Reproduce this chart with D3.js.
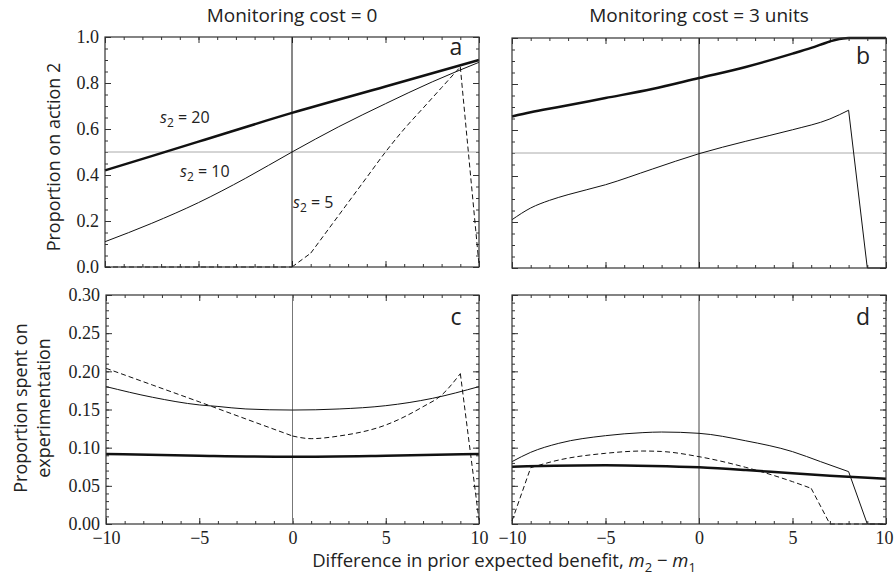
<!DOCTYPE html>
<html lang="en">
<head>
<meta charset="UTF-8">
<title>Monitoring cost panels</title>
<script src="https://d3js.org/d3.v7.min.js"></script>
<style>
  body { margin: 0; background: #fff; }
  svg { display: block; }
</style>
</head>
<body>
<svg id="chart" width="894" height="582"></svg>
<script>
// panel a: monitoring cost 0, proportion on action 2
let a20X = [-10, -5, 0, 5, 10]
let a20Y = [0.42, 0.545, 0.67, 0.785, 0.90]
let a10X = [-10, -7.5, -5, -2.5, 0, 2.5, 5, 7.5, 10]
let a10Y = [0.11, 0.19, 0.28, 0.385, 0.50, 0.61, 0.71, 0.805, 0.89]
let a5X = [-10, 0, 1, 2, 3, 4, 5, 6, 7, 8, 9, 10]
let a5Y = [0, 0, 0.06, 0.17, 0.28, 0.39, 0.50, 0.60, 0.69, 0.78, 0.87, 0.01]

// panel b: monitoring cost 3
let b20X = [-10, -9, -7.5, -5, -2.5, 0, 2.5, 5, 6, 7, 7.5, 8, 10]
let b20Y = [0.659, 0.677, 0.70, 0.739, 0.778, 0.826, 0.874, 0.932, 0.957, 0.985, 0.996, 1.0, 1.0]
let b10X = [-10, -9, -8, -7, -5, -2.5, 0, 2.5, 5, 7, 8, 9, 10]
let b10Y = [0.21, 0.261, 0.294, 0.319, 0.362, 0.43, 0.497, 0.551, 0.601, 0.648, 0.686, 0, 0]

// panel c: monitoring cost 0, proportion spent on experimentation
let c20X = [-10, -5, 0, 5, 10]
let c20Y = [0.0917, 0.0895, 0.0882, 0.0895, 0.0917]
let c10X = [-10, -7.5, -5, -4, -2.5, 0, 2.5, 5, 7.5, 10]
let c10Y = [0.180, 0.166, 0.156, 0.154, 0.1507, 0.1493, 0.1507, 0.155, 0.1646, 0.180]
let c5X = [-10, -7.5, -5, -2.5, 0, 1, 2.5, 5, 7, 8, 9, 10]
let c5Y = [0.204, 0.182, 0.160, 0.1376, 0.1153, 0.1118, 0.1153, 0.1297, 0.1537, 0.169, 0.197, 0.005]

// panel d: monitoring cost 3
let d20X = [-10, -5, -2.5, 0, 2.5, 5, 7, 8, 10]
let d20Y = [0.0751, 0.0769, 0.076, 0.0742, 0.0707, 0.0664, 0.0633, 0.062, 0.0594]
let d10X = [-10, -9, -7.5, -5, -3, -2, 0, 2.5, 5, 6.5, 8, 9, 10]
let d10Y = [0.0817, 0.0939, 0.1057, 0.1157, 0.1197, 0.1205, 0.1188, 0.109, 0.0948, 0.0817, 0.0686, 0, 0]
let d5X = [-10, -9, -7.5, -5, -3, -2, 0, 2.5, 5, 6, 7, 10]
let d5Y = [0.004, 0.0738, 0.0838, 0.0926, 0.0956, 0.095, 0.0882, 0.0742, 0.0555, 0.0467, 0, 0]

let xMajor = [-10, -5, 0, 5, 10]
let topMajor = [0, 0.2, 0.4, 0.6, 0.8, 1.0]
let botMajor = [0, 0.05, 0.10, 0.15, 0.20, 0.25, 0.30]

let titles = ["Monitoring cost = 0", "Monitoring cost = 3 units"]

let svg = d3.select('#chart')
let sans = '"Open Sans", "Noto Sans", sans-serif'
let serif = 'Liberation Serif'

let zip = (xs, ys) => xs.map((x, i) => [x, ys[i]])

let styles = {
  thick: {w: 2.5, dash: null},
  thin: {w: 1, dash: null},
  dash: {w: 1, dash: '5,3'}
}

// last item of each series = indices where the curve has a corner
let panels = [
  {id: 'a', x0: 105, x1: 479, y0: 37, y1: 267, ymax: 1, major: topMajor, minorStep: 0.05, fmt: '.1f',
   half: true, zeroCol: '#111', yLabels: true, xLabels: false, idY: 55,
   series: [[a20X, a20Y, 'thick', []], [a10X, a10Y, 'thin', []], [a5X, a5Y, 'dash', [1, 2, 10]]]},
  {id: 'b', x0: 512, x1: 886, y0: 38, y1: 268, ymax: 1, major: topMajor, minorStep: 0.05, fmt: '.1f',
   half: true, zeroCol: '#111', yLabels: false, xLabels: false, idY: 64,
   series: [[b20X, b20Y, 'thick', [11]], [b10X, b10Y, 'thin', [10, 11]]]},
  {id: 'c', x0: 106, x1: 479, y0: 295, y1: 524, ymax: 0.3, major: botMajor, minorStep: 0.01, fmt: '.2f',
   half: false, zeroCol: '#777', yLabels: true, xLabels: true, idY: 325,
   series: [[c20X, c20Y, 'thick', []], [c10X, c10Y, 'thin', []], [c5X, c5Y, 'dash', [4, 10]]]},
  {id: 'd', x0: 512, x1: 886, y0: 295, y1: 524, ymax: 0.3, major: botMajor, minorStep: 0.01, fmt: '.2f',
   half: false, zeroCol: '#444', yLabels: false, xLabels: true, idY: 325,
   series: [[d20X, d20Y, 'thick', []], [d10X, d10Y, 'thin', [10, 11]], [d5X, d5Y, 'dash', [1, 9, 10]]]}
]

let clean = a => {
  a.select('.domain').remove()
  a.attr('font-family', serif).attr('font-size', 18)
  a.selectAll('.tick line').attr('stroke', '#333')
  a.selectAll('.tick text').attr('fill', '#222')
    .attr('font-family', serif).attr('font-size', 18)
}

// split a series at its corners so each smooth piece can use a monotone curve
let pieces = (pts, breaks) => {
  let cuts = [0].concat(breaks, [pts.length - 1])
  let out = []
  for (let i = 0; i < cuts.length - 1; i++) out.push(pts.slice(cuts[i], cuts[i + 1] + 1))
  return out
}

let drawPanel = (p) => {
  let x = d3.scaleLinear().domain([-10, 10]).range([p.x0, p.x1])
  let y = d3.scaleLinear().domain([0, p.ymax]).range([p.y1, p.y0])
  let g = svg.append('g')

  let xMinor = d3.range(-10, 10.01, 1)
  let yMinor = d3.range(0, p.ymax + 1e-9, p.minorStep)

  // minor ticks, inward on all four sides
  let sides = [
    [d3.axisBottom(x), 'translate(0,' + p.y1 + ')', xMinor],
    [d3.axisTop(x), 'translate(0,' + p.y0 + ')', xMinor],
    [d3.axisLeft(y), 'translate(' + p.x0 + ',0)', yMinor],
    [d3.axisRight(y), 'translate(' + p.x1 + ',0)', yMinor]
  ]
  sides.forEach(s => {
    g.append('g').attr('transform', s[1])
      .call(s[0].tickValues(s[2]).tickSize(-3).tickFormat(''))
      .call(clean)
  })

  // major ticks + labels
  let bottom = d3.axisBottom(x).tickValues(xMajor).tickSizeInner(-6).tickSizeOuter(0).tickPadding(7)
  if (!p.xLabels) bottom.tickFormat('')
  let bx = g.append('g').attr('transform', 'translate(0,' + p.y1 + ')').call(bottom).call(clean)
  // keep the last label of the right-hand column inside the page
  if (p.id === 'd') bx.selectAll('.tick text').filter(d => d === 10).attr('dx', -2)
  g.append('g').attr('transform', 'translate(0,' + p.y0 + ')')
    .call(d3.axisTop(x).tickValues(xMajor).tickSizeInner(-6).tickSizeOuter(0).tickFormat(''))
    .call(clean)
  let left = d3.axisLeft(y).tickValues(p.major).tickSizeInner(-6).tickSizeOuter(0).tickPadding(6).tickFormat(d3.format(p.fmt))
  if (!p.yLabels) left.tickFormat('')
  g.append('g').attr('transform', 'translate(' + p.x0 + ',0)').call(left).call(clean)
  g.append('g').attr('transform', 'translate(' + p.x1 + ',0)')
    .call(d3.axisRight(y).tickValues(p.major).tickSizeInner(-6).tickSizeOuter(0).tickFormat(''))
    .call(clean)

  // reference lines
  if (p.half) {
    g.append('line').attr('x1', p.x0).attr('x2', p.x1)
      .attr('y1', y(0.5)).attr('y2', y(0.5))
      .attr('stroke', '#aaa').attr('stroke-width', 1)
  }
  g.append('line').attr('x1', x(0)).attr('x2', x(0))
    .attr('y1', p.y0).attr('y2', p.y1)
    .attr('stroke', p.zeroCol).attr('stroke-width', 1)

  let line = d3.line().x(d => x(d[0])).y(d => y(d[1])).curve(d3.curveMonotoneX)
  p.series.forEach(s => {
    let st = styles[s[2]]
    let pts = zip(s[0], s[1])
    let d = pieces(pts, s[3]).map(line).join('')
    g.append('path')
      .attr('d', d)
      .attr('fill', 'none')
      .attr('stroke', '#111')
      .attr('stroke-width', st.w)
      .attr('stroke-linejoin', 'round')
      .attr('stroke-dasharray', st.dash)
  })

  // frame
  g.append('rect').attr('x', p.x0).attr('y', p.y0)
    .attr('width', p.x1 - p.x0).attr('height', p.y1 - p.y0)
    .attr('fill', 'none').attr('stroke', '#333').attr('stroke-width', 1.2)

  g.append('text')
    .attr('x', p.x1 - 23).attr('y', p.idY)
    .attr('text-anchor', 'middle')
    .attr('font-family', sans).attr('font-size', 23).attr('fill', '#222')
    .text(p.id)
}

panels.forEach(drawPanel)

let label = (x, y, size) => svg.append('text')
  .attr('x', x).attr('y', y)
  .attr('font-family', sans).attr('font-size', size).attr('fill', '#222')

// column titles
label(292, 22, 19).attr('text-anchor', 'middle').text(titles[0])
label(699, 22, 19).attr('text-anchor', 'middle').text(titles[1])

// y axis titles
label(0, 0, 18).attr('transform', 'translate(60,157) rotate(-90)').attr('text-anchor', 'middle')
  .text('Proportion on action 2')
let yt = label(0, 0, 18).attr('transform', 'translate(27,408) rotate(-90)').attr('text-anchor', 'middle')
yt.append('tspan').attr('x', 0).attr('dy', 0).text('Proportion spent on')
yt.append('tspan').attr('x', 0).attr('dy', 23).text('experimentation')

// x axis title
let xt = label(504, 567, 18.5).attr('text-anchor', 'middle')
xt.append('tspan').text('Difference in prior expected benefit, ')
xt.append('tspan').attr('font-style', 'italic').text('m')
xt.append('tspan').attr('font-size', 13).attr('dy', 5).text('2')
xt.append('tspan').attr('dy', -5).text(' \u2212 ')
xt.append('tspan').attr('font-style', 'italic').text('m')
xt.append('tspan').attr('font-size', 13).attr('dy', 5).text('1')

// series labels in panel a
let sNames = ['20', '10', '5']
let sPos = [[160, 123], [180, 177], [293, 208]]
sNames.forEach((n, i) => {
  let t = label(sPos[i][0], sPos[i][1], 16)
  t.append('tspan').attr('font-style', 'italic').text('s')
  t.append('tspan').attr('font-size', 12).attr('dy', 4).text('2')
  t.append('tspan').attr('dy', -4).text(' = ' + n)
})
</script>
</body>
</html>
